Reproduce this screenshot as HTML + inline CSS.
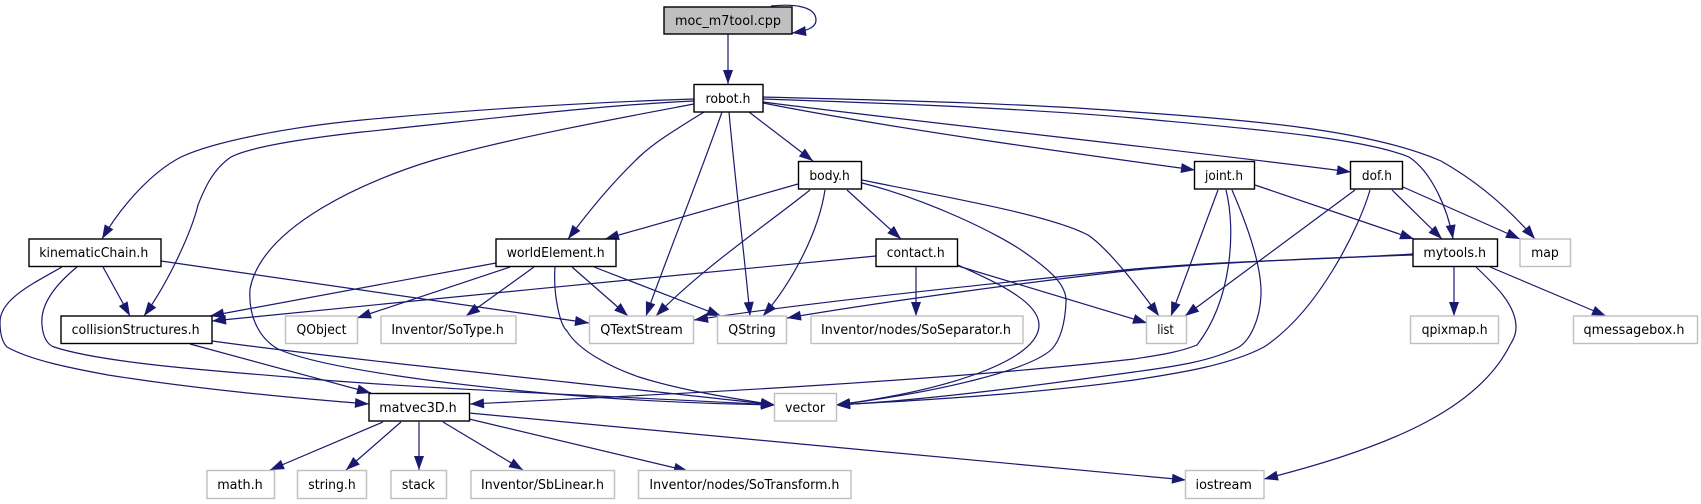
<!DOCTYPE html>
<html><head><meta charset="utf-8"><style>
html,body{margin:0;padding:0;background:#fff}
svg{display:block}
text{font-family:"DejaVu Sans","Liberation Sans",sans-serif;font-size:13px;text-anchor:middle;fill:#000}
.e{fill:none;stroke:#191970;stroke-width:1.2;marker-end:url(#a)}
.b{fill:#fff;stroke:#000;stroke-width:1.4}
.g{fill:#fff;stroke:#bfbfbf;stroke-width:1.4}
</style></head><body>
<svg width="1701" height="504" viewBox="0 0 1701 504" xmlns="http://www.w3.org/2000/svg">
<defs><marker id="a" markerUnits="userSpaceOnUse" markerWidth="16" markerHeight="12" refX="14" refY="6" orient="auto" overflow="visible"><path d="M0,1 L14,6 L0,11 Z" fill="#191970"/></marker></defs>

<path class="e" d="M771,6 C790,4 816,5 816,20 C816,28 806,31 792,33"/>
<path class="e" d="M728,34 L728,84"/>
<path class="e" d="M694,99 C600,102 480,109 362,120 C290,127 215,141 181,157 C150,173 120,208 102,239"/>
<path class="e" d="M694,101 C600,105 480,120 362,132 C300,139 250,147 231,157 C212,170 204,190 198,205 C192,230 170,280 144,316"/>
<path class="e" d="M694,104 C620,118 510,138 434,160 C370,179 262,225 250,289 C248,320 262,340 278,349 C320,368 450,385 567,395 C650,402 720,404 775,405"/>
<path class="e" d="M704,112 C675,130 655,142 639,157 C610,185 590,210 568,239"/>
<path class="e" d="M722,112 C700,175 662,270 646,316"/>
<path class="e" d="M729,112 C735,180 745,260 750,316"/>
<path class="e" d="M749,112 L813,161"/>
<path class="e" d="M763,97 C880,100 1020,103 1134,112 C1250,120 1370,130 1441,161 C1480,183 1510,210 1535,239"/>
<path class="e" d="M763,99 C880,103 1020,108 1134,118 C1240,128 1360,137 1409,157 C1432,172 1448,210 1453,239"/>
<path class="e" d="M763,102 C900,120 1200,152 1351,172"/>
<path class="e" d="M763,103 C900,130 1100,157 1195,170"/>

<path class="e" d="M798,184 L605,239"/>
<path class="e" d="M810,190 C770,222 700,270 656,316"/>
<path class="e" d="M825,190 C818,235 790,285 763,316"/>
<path class="e" d="M847,190 L901,239"/>
<path class="e" d="M862,183 C930,200 1000,235 1024,252 C1050,270 1067,285 1066,302 C1065,325 1060,340 1052,349 C1030,370 940,392 836,405"/>
<path class="e" d="M862,180 C950,198 1050,215 1088,235 C1110,250 1140,290 1159,316"/>

<path class="e" d="M876,256 C700,273 400,302 212,321"/>
<path class="e" d="M916,267 L916,316"/>
<path class="e" d="M958,265 C990,280 1039,300 1039,325 C1039,360 950,390 836,405"/>
<path class="e" d="M958,266 L1147,323"/>

<path class="e" d="M496,263 L210,316"/>
<path class="e" d="M510,267 L357,318"/>
<path class="e" d="M534,267 L466,316"/>
<path class="e" d="M555,267 C553,295 560,325 567,331 C578,350 610,367 639,377 C680,390 730,398 775,405"/>
<path class="e" d="M572,267 L628,316"/>
<path class="e" d="M594,267 L721,316"/>

<path class="e" d="M161,261 L589,323"/>
<path class="e" d="M103,267 L130,316"/>
<path class="e" d="M77,267 C55,285 40,305 42,325 C43,338 48,345 54,347 C100,362 200,370 289,377 C400,388 650,398 775,405"/>
<path class="e" d="M62,267 C30,285 0,300 0,322 C0,335 3,343 7,347 C30,360 70,368 108,375 C190,388 290,398 369,404"/>

<path class="e" d="M190,344 L371,393"/>
<path class="e" d="M212,341 C350,360 600,385 775,405"/>

<path class="e" d="M383,422 L270,470"/>
<path class="e" d="M401,422 L346,470"/>
<path class="e" d="M419,422 L419,470"/>
<path class="e" d="M443,422 L523,470"/>
<path class="e" d="M469,419 L688,471"/>
<path class="e" d="M469,413 L1186,480"/>

<path class="e" d="M1413,254 C1320,260 1220,261 1134,269 C990,284 820,301 694,320"/>
<path class="e" d="M1413,255 C1320,258 1220,262 1134,270 C1030,282 880,302 787,318"/>
<path class="e" d="M1454,267 L1454,316"/>
<path class="e" d="M1490,267 L1606,316"/>
<path class="e" d="M1476,267 C1495,285 1516,305 1516,327 C1516,335 1513,340 1510,345 C1480,405 1400,445 1264,479"/>

<path class="e" d="M1226,190 C1236,230 1232,300 1197,345 C1180,352 1160,355 1134,359 C950,380 700,393 470,404"/>
<path class="e" d="M1218,190 L1171,316"/>
<path class="e" d="M1232,190 C1245,220 1262,265 1261,295 C1260,320 1250,340 1239,347 C1210,362 1170,367 1134,372 C1040,385 930,400 836,405"/>
<path class="e" d="M1255,185 L1414,239"/>

<path class="e" d="M1355,190 L1185,316"/>
<path class="e" d="M1370,190 C1360,225 1320,310 1264,347 C1230,365 1180,373 1134,380 C1040,393 930,400 836,405"/>
<path class="e" d="M1392,190 L1442,239"/>
<path class="e" d="M1403,187 L1520,239"/>

<rect x="664" y="7" width="128" height="27" fill="#bfbfbf" stroke="#000" stroke-width="1.4"/><text x="728" y="25" textLength="106" lengthAdjust="spacingAndGlyphs">moc_m7tool.cpp</text>
<rect class="b" x="694" y="84.500" width="69" height="27.500"/><text x="728" y="103" textLength="45" lengthAdjust="spacingAndGlyphs">robot.h</text>
<rect class="b" x="798.500" y="161.500" width="63" height="27.500"/><text x="829.600" y="180" textLength="40.500" lengthAdjust="spacingAndGlyphs">body.h</text>
<rect class="b" x="1194.500" y="161.500" width="60" height="27.500"/><text x="1224" y="180" textLength="38" lengthAdjust="spacingAndGlyphs">joint.h</text>
<rect class="b" x="1350.500" y="161.500" width="52" height="27.500"/><text x="1376.900" y="180" textLength="30" lengthAdjust="spacingAndGlyphs">dof.h</text>
<rect class="b" x="29" y="239" width="132" height="27.500"/><text x="93.800" y="257" textLength="109" lengthAdjust="spacingAndGlyphs">kinematicChain.h</text>
<rect class="b" x="496" y="239" width="120" height="27.500"/><text x="555.700" y="257" textLength="98" lengthAdjust="spacingAndGlyphs">worldElement.h</text>
<rect class="b" x="876" y="239" width="81.500" height="27.500"/><text x="915.700" y="257" textLength="58" lengthAdjust="spacingAndGlyphs">contact.h</text>
<rect class="b" x="1413" y="239" width="84.500" height="27.500"/><text x="1454.700" y="257" textLength="62.700" lengthAdjust="spacingAndGlyphs">mytools.h</text>
<rect class="g" x="1520" y="239" width="50.500" height="27.500"/><text x="1545" y="257" textLength="27.700" lengthAdjust="spacingAndGlyphs">map</text>
<rect class="b" x="61" y="316" width="151" height="27.500"/><text x="135.600" y="334" textLength="128" lengthAdjust="spacingAndGlyphs">collisionStructures.h</text>
<rect class="g" x="285.500" y="316" width="72" height="27.500"/><text x="321.500" y="334" textLength="50" lengthAdjust="spacingAndGlyphs">QObject</text>
<rect class="g" x="381" y="316" width="135" height="27.500"/><text x="447.600" y="334" textLength="112.500" lengthAdjust="spacingAndGlyphs">Inventor/SoType.h</text>
<rect class="g" x="589.500" y="316" width="104" height="27.500"/><text x="641.500" y="334" textLength="82.500" lengthAdjust="spacingAndGlyphs">QTextStream</text>
<rect class="g" x="717.500" y="316" width="69" height="27.500"/><text x="752" y="334" textLength="47.400" lengthAdjust="spacingAndGlyphs">QString</text>
<rect class="g" x="811" y="316" width="212" height="27.500"/><text x="916" y="334" textLength="190" lengthAdjust="spacingAndGlyphs">Inventor/nodes/SoSeparator.h</text>
<rect class="g" x="1146.500" y="316" width="40" height="27.500"/><text x="1165.500" y="334" textLength="16.600" lengthAdjust="spacingAndGlyphs">list</text>
<rect class="g" x="1410.500" y="316" width="88" height="27.500"/><text x="1454.600" y="334" textLength="66" lengthAdjust="spacingAndGlyphs">qpixmap.h</text>
<rect class="g" x="1573.500" y="316" width="124" height="27.500"/><text x="1634" y="334" textLength="101" lengthAdjust="spacingAndGlyphs">qmessagebox.h</text>
<rect class="b" x="369" y="393.500" width="100.500" height="27.500"/><text x="418" y="412" textLength="77.400" lengthAdjust="spacingAndGlyphs">matvec3D.h</text>
<rect class="g" x="774.500" y="393.500" width="62" height="27.500"/><text x="805" y="412" textLength="40" lengthAdjust="spacingAndGlyphs">vector</text>
<rect class="g" x="207" y="470.500" width="67.500" height="28"/><text x="240" y="489" textLength="45.600" lengthAdjust="spacingAndGlyphs">math.h</text>
<rect class="g" x="297.500" y="470.500" width="69" height="28"/><text x="332" y="489" textLength="47.400" lengthAdjust="spacingAndGlyphs">string.h</text>
<rect class="g" x="391" y="470.500" width="55.500" height="28"/><text x="418.400" y="489" textLength="33" lengthAdjust="spacingAndGlyphs">stack</text>
<rect class="g" x="471" y="470.500" width="143.500" height="28"/><text x="542.500" y="489" textLength="123" lengthAdjust="spacingAndGlyphs">Inventor/SbLinear.h</text>
<rect class="g" x="638.500" y="470.500" width="212.500" height="28"/><text x="744.400" y="489" textLength="190" lengthAdjust="spacingAndGlyphs">Inventor/nodes/SoTransform.h</text>
<rect class="g" x="1185.500" y="470.500" width="78.500" height="28"/><text x="1223.700" y="489" textLength="56.400" lengthAdjust="spacingAndGlyphs">iostream</text>
</svg>
</body></html>
